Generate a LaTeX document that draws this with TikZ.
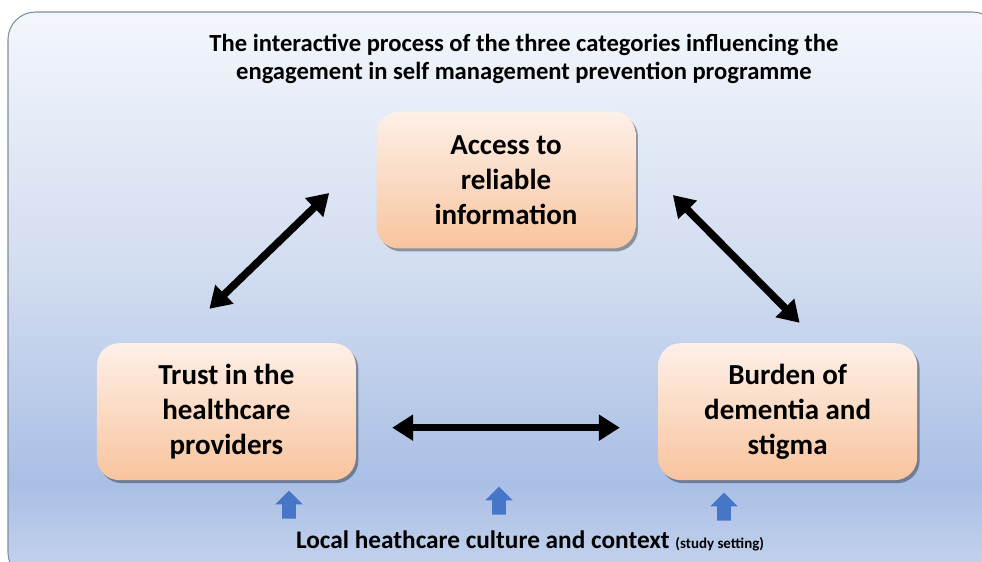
\documentclass[tikz,border=0pt]{standalone}
\usepackage{fontspec}
\setmainfont{Carlito}
\usetikzlibrary{arrows.meta, positioning, shapes.arrows, shadows, calc}

\definecolor{paneltop}{RGB}{243,246,252}
\definecolor{panelmid}{RGB}{210,221,240}
\definecolor{paneldark}{RGB}{170,191,229}
\definecolor{panelbot}{RGB}{198,212,238}
\definecolor{panelline}{RGB}{128,142,156}
\definecolor{peachtop}{RGB}{253,240,232}
\definecolor{peachbot}{RGB}{248,196,158}
\definecolor{cueblue}{RGB}{70,118,200}

% background fade, light at the top and darkest just above the footer
% (a path only sees the 25bp--75bp band of a 100bp shading)
\pgfdeclareverticalshading{panelfade}{100bp}{color(0bp)=(panelbot); color(25bp)=(panelbot); color(33.5bp)=(paneldark); color(52.5bp)=(panelmid); color(75bp)=(paneltop); color(100bp)=(paneltop)}

\begin{document}
\begin{tikzpicture}[
  x=0.02cm, y=-0.02cm,
  category/.style={rectangle, rounded corners=0.45cm, minimum width=5.18cm, minimum height=2.74cm,
    align=center, font=\bfseries\fontsize{16.5}{19.8}\selectfont,
    top color=peachtop, bottom color=peachbot,
    drop shadow={shadow xshift=0.05cm, shadow yshift=-0.06cm, opacity=0.35, fill=black}},
  link/.style={{Triangle[length=0.42cm, width=0.5cm]}-{Triangle[length=0.42cm, width=0.5cm]}, line width=0.15cm},
  cue/.style={single arrow, shape border rotate=90, fill=cueblue, inner sep=0.13cm,
    minimum width=0.54cm, minimum height=0.56cm, single arrow head extend=0.14cm,
    single arrow tip angle=90}
]
\useasboundingbox (0,0) rectangle (982,561);
\path[shading=panelfade, draw=panelline, line width=0.6pt, rounded corners=0.55cm] (8,12) rectangle (1000,580);

\node[font=\bfseries\fontsize{14}{15.9}\selectfont, align=center] (title) at (524,59)
  {The interactive process of the three categories influencing the\\engagement in self management prevention programme};

\node[category] (access) at (506,180) {Access to\\reliable\\information};
\node[category, below left=1.88cm and 0.4cm of access] (trust) {Trust in the\\healthcare\\providers};
\node[category, below right=1.88cm and 0.44cm of access] (burden) {Burden of\\dementia and\\stigma};

\draw[link] ($(trust.north)+(-17,-34)$) -- ($(access.west)+(-47,13)$);
\draw[link] ($(access.east)+(37,15)$) -- ($(burden.north)+(12,-20)$);
\draw[link] ($(trust.east)+(36,16)$) -- ($(burden.west)+(-38,16)$);

\node[cue] (cueleft) at (289,508) {};
\node[cue] (cuemid) at (499,504) {};
\node[cue] (cueright) at (724,510) {};

\node[font=\bfseries\fontsize{14.4}{16}\selectfont, anchor=base] (setting) at (530,548)
  {Local heathcare culture and context {\fontsize{8.5}{9}\selectfont(study setting)}};
\end{tikzpicture}
\end{document}
